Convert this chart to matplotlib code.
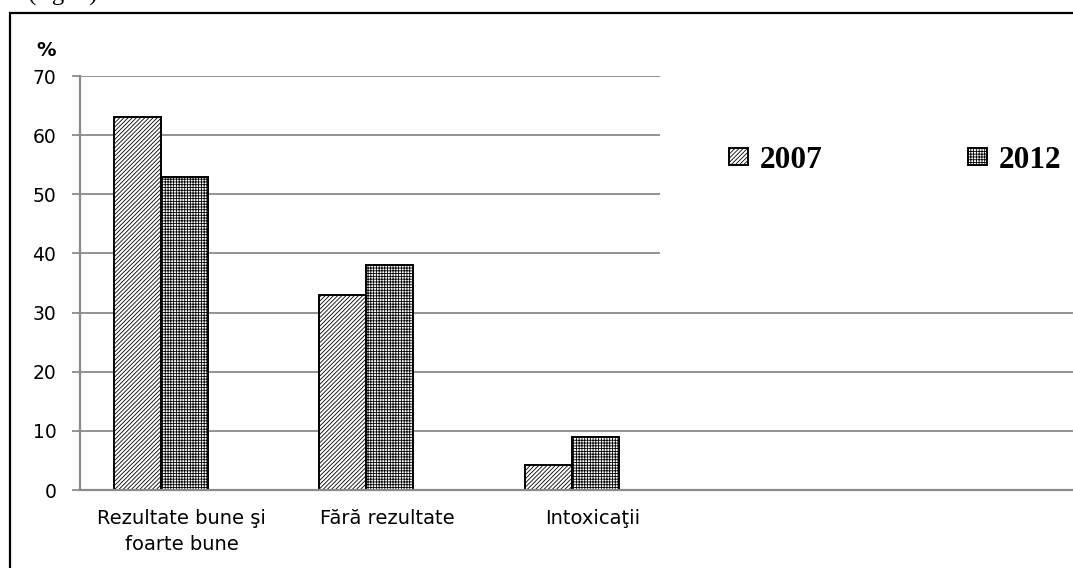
import matplotlib
matplotlib.use("Agg")
import matplotlib.pyplot as plt
from matplotlib.patches import Rectangle
import numpy as np

categories = ["Rezultate bune şi\nfoarte bune", "Fără rezultate", "Intoxicaţii"]
series_names = ["2007", "2012"]
values_2007 = [63, 33, 4.2]
values_2012 = [53, 38, 9]
yticks = [0, 10, 20, 30, 40, 50, 60, 70]

W, H = 1073, 568
plt.rcParams['hatch.linewidth'] = 0.6
fig = plt.figure(figsize=(W / 100, H / 100), dpi=100)

def fx(px):
    return px / W

def fy(py):
    return 1 - py / H

ax = fig.add_axes([fx(80), fy(490), fx(1073) - fx(80), fy(76) - fy(490)])

x = np.arange(len(categories))
bw = 0.2287
grid_c = "#8a8a8a"

b1 = ax.bar(x - bw / 2, values_2007, bw, facecolor="white", edgecolor="black",
            hatch="////////", linewidth=1.4, label=series_names[0], zorder=2)
b2 = ax.bar(x + bw / 2, values_2012, bw, facecolor="white", edgecolor="black",
            hatch="++++++", linewidth=1.4, label=series_names[1], zorder=2)

ax.set_ylim(0, 70)
ax.set_xlim(-0.393, -0.393 + 993 / 205.5)
ax.set_yticks(yticks)
ax.set_yticklabels([str(v) for v in yticks], fontsize=13.5, family="DejaVu Sans")
ax.yaxis.grid(True, color=grid_c, linewidth=1.3)
ax.set_axisbelow(True)

ax.set_xticks(x + 0.102)
ax.set_xticklabels(categories, fontsize=14, family="DejaVu Sans", linespacing=1.45)
ax.tick_params(axis='x', length=0, pad=14)
ax.tick_params(axis='y', length=6, width=1.3, color=grid_c, pad=11)

for s in ["top", "right"]:
    ax.spines[s].set_visible(False)
for s in ["left", "bottom"]:
    ax.spines[s].set_color(grid_c)
    ax.spines[s].set_linewidth(1.6)

# white area behind legend covering gridlines
ax.add_patch(Rectangle((fx(660), fy(290)), fx(1080) - fx(660), fy(40) - fy(290),
                       transform=fig.transFigure, facecolor="white", edgecolor="none",
                       clip_on=False, zorder=1.5))

leg = ax.legend(handles=[b1, b2], ncol=2, frameon=False, loc="center left",
                bbox_to_anchor=(fx(729), fy(160)), bbox_transform=fig.transFigure,
                borderpad=0, borderaxespad=0, handlelength=0.62, handleheight=0.46,
                handletextpad=0.36, columnspacing=4.65,
                prop={"family": "Liberation Serif", "weight": "bold", "size": 22.5})
leg.set_zorder(5)

fig.text(fx(46), fy(50), "%", ha="center", va="center", fontsize=14,
         fontweight="bold", family="DejaVu Sans")

# outer frame
fig.add_artist(Rectangle((fx(10), fy(700)), fx(1200) - fx(10), fy(13) - fy(700),
                         transform=fig.transFigure, facecolor="none", edgecolor="black",
                         linewidth=1.6, clip_on=False))

# partially visible caption above the frame (cut off in the reference as well)
fig.text(fx(28), fy(1), "(fig. 2)", ha="left", va="baseline", fontsize=18,
         family="Liberation Serif")

fig.savefig("out.png", dpi=100)
